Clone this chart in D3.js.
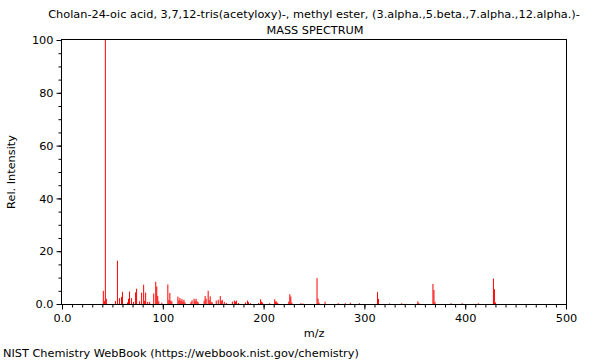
<!DOCTYPE html>
<html lang="en">
<head>
    <meta charset="UTF-8">
    <title>Mass Spectrum</title>
    <script src="https://d3js.org/d3.v7.min.js"></script>
    <style>
        body { margin: 0; background: #fff; }
        text { font-family: "DejaVu Sans", sans-serif; fill: #000; }
        .axis path, .axis line { stroke: #000; }
    </style>
</head>
<body>
<svg width="600" height="360"></svg>
<script>
    // peak list (m/z, relative intensity)
    const mz = [41, 42, 43, 44, 53, 55, 57, 59, 60, 65, 66, 67, 69, 71, 73, 74, 77, 79, 81, 82, 83, 85, 87,
        91, 93, 94, 95, 96, 99, 105, 106, 107, 108, 109, 115, 116, 117, 118, 119, 120, 121, 122, 128, 129,
        131, 132, 133, 134, 135, 141, 142, 143, 145, 146, 147, 148, 149, 153, 155, 157, 158, 159, 161, 163,
        169, 171, 172, 173, 175, 182, 184, 185, 187, 195, 197, 198, 199, 206, 211, 212, 213, 214, 225, 226,
        227, 228, 237, 239, 253, 254, 255, 261, 274, 281, 286, 295, 313, 314, 325, 337, 353, 354, 368, 369,
        370, 386, 397, 413, 428, 429, 430];
    const intensity = [5.0, 1.2, 100, 2.0, 1.1, 16.4, 2.2, 2.7, 4.6, 0.6, 2.0, 4.7, 2.2, 0.8, 4.4, 5.8, 1.1, 4.3, 7.3, 1.2, 4.3, 0.8, 0.8,
        4.0, 8.4, 6.6, 3.0, 1.0, 0.5, 7.4, 1.5, 4.2, 1.3, 1.0, 2.8, 1.4, 2.3, 1.2, 1.9, 1.0, 1.6, 0.6, 0.8, 1.4,
        2.0, 1.2, 2.0, 1.0, 0.7, 1.3, 3.0, 2.0, 5.0, 1.5, 2.9, 0.8, 0.6, 1.3, 1.6, 3.0, 1.2, 1.6, 0.8, 0.4,
        0.9, 1.3, 0.9, 1.3, 0.4, 0.6, 1.3, 0.7, 0.3, 0.4, 1.8, 0.9, 0.5, 0.3, 1.8, 1.0, 0.9, 0.4, 0.9, 3.7,
        2.8, 0.6, 0.3, 0.2, 9.8, 2.0, 0.5, 0.9, 0.3, 0.3, 0.5, 0.3, 4.5, 1.9, 0.2, 0.3, 1.0, 0.4, 7.6, 5.3,
        0.8, 0.3, 0.3, 0.3, 9.6, 5.6, 0.6];

    const xMajor = [0, 100, 200, 300, 400, 500];
    const xLabels = ["0.0", "100", "200", "300", "400", "500"];
    const yMajor = [0, 20, 40, 60, 80, 100];
    const yLabels = ["0.0", "20", "40", "60", "80", "100"];

    const titleText = "Cholan-24-oic acid, 3,7,12-tris(acetyloxy)-, methyl ester, (3.alpha.,5.beta.,7.alpha.,12.alpha.)-";

    const svg = d3.select("svg");
    const plotL = 62, plotR = 566, plotT = 40, plotB = 304;

    const x = d3.scaleLinear().domain([0, 500]).range([plotL, plotR]);
    const y = d3.scaleLinear().domain([0, 100]).range([plotB, plotT]);

    // peaks
    svg.append("g")
        .selectAll("line")
        .data(mz)
        .enter()
        .append("line")
        .attr("x1", d => x(d))
        .attr("x2", d => x(d))
        .attr("y1", y(0))
        .attr("y2", (d, i) => y(intensity[i]))
        .attr("stroke", "#ff0000")
        .attr("stroke-width", 1);

    // minor ticks
    svg.append("g").attr("class", "axis")
        .attr("transform", `translate(0,${plotB + 0.5})`)
        .call(d3.axisBottom(x).tickValues(d3.range(0, 501, 10)).tickSize(3).tickFormat(""))
        .call(g => g.select(".domain").remove());
    svg.append("g").attr("class", "axis")
        .attr("transform", `translate(${plotL - 0.5},0)`)
        .call(d3.axisLeft(y).tickValues(d3.range(0, 101, 5)).tickSize(3).tickFormat(""))
        .call(g => g.select(".domain").remove());

    // major ticks + labels
    svg.append("g").attr("class", "axis")
        .attr("transform", `translate(0,${plotB + 0.5})`)
        .call(d3.axisBottom(x).tickValues(xMajor).tickSize(5).tickPadding(4)
            .tickFormat((d, i) => xLabels[i]))
        .call(g => g.select(".domain").remove())
        .selectAll("text").style("font-size", "11.3px");
    svg.append("g").attr("class", "axis")
        .attr("transform", `translate(${plotL - 0.5},0)`)
        .call(d3.axisLeft(y).tickValues(yMajor).tickSize(5).tickPadding(3)
            .tickFormat((d, i) => yLabels[i]))
        .call(g => g.select(".domain").remove())
        .selectAll("text").style("font-size", "11.3px");

    // frame
    svg.append("rect")
        .attr("x", plotL - 0.5).attr("y", plotT - 0.5)
        .attr("width", plotR - plotL + 1).attr("height", plotB - plotT + 1)
        .attr("fill", "none").attr("stroke", "#000").attr("stroke-width", 1);

    // texts
    svg.append("text").attr("x", 314).attr("y", 18).attr("text-anchor", "middle")
        .style("font-size", "11.3px").text(titleText);
    svg.append("text").attr("x", 315).attr("y", 34).attr("text-anchor", "middle")
        .style("font-size", "11.3px").text("MASS SPECTRUM");
    svg.append("text").attr("x", 314).attr("y", 337).attr("text-anchor", "middle")
        .style("font-size", "11.3px").text("m/z");
    svg.append("text").attr("transform", `translate(15,172) rotate(-90)`).attr("text-anchor", "middle")
        .style("font-size", "11.3px").text("Rel. Intensity");
    svg.append("text").attr("x", 3).attr("y", 357)
        .style("font-size", "11.3px").text("NIST Chemistry WebBook (https://webbook.nist.gov/chemistry)");
</script>
</body>
</html>
